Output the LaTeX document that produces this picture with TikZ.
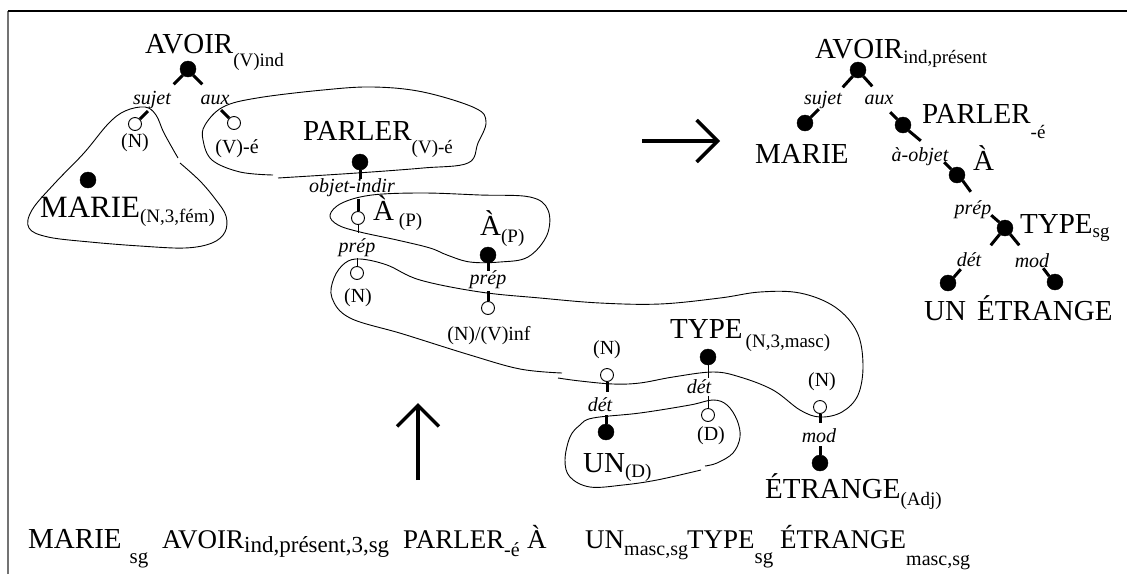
\documentclass[tikz,border=0pt]{standalone}
\usepackage{fontspec}
\setmainfont{Liberation Serif}
\usepackage{tikz}
\usetikzlibrary{positioning,arrows.meta}

\newcommand\lo[2][9]{\raisebox{-#1pt}{\fontsize{19}{19}\selectfont #2}}
\newcommand\blo[3][9]{\raisebox{-#1pt}{\fontsize{#2}{#2}\selectfont #3}}

\begin{document}
\begin{tikzpicture}[
	x=1pt, y=-1pt
	,f/.style={circle, draw, fill, inner sep=0pt, minimum size=16pt}
	,o/.style={circle, draw, fill=white, line width=.9pt, inner sep=0pt, minimum size=13pt}
	,w/.style={anchor=base west, inner sep=0pt, font=\fontsize{29}{30}\selectfont}
	,bw/.style={w, font=\fontsize{27}{30}\selectfont}
	,s/.style={inner sep=0pt, font=\fontsize{20}{20}\selectfont}
	,l/.style={inner sep=0pt, font=\fontsize{20}{20}\selectfont\itshape}
	,stk/.style={line width=3pt}
	,thn/.style={line width=1pt}
	,blob/.style={line width=.9pt}
	,arr/.style={line width=3.5pt, -{Straight Barb[length=21pt, width=42pt]}}
]
\useasboundingbox (0,0) rectangle (1127,574);
\draw[line width=1.2pt, black!55] (8,574) -- (8,11);
\draw[line width=1.2pt] (8,11) -- (1127,11);

% bubbles
\draw[blob] plot[smooth, tension=.6] coordinates {(180,163) (200,181) (216,200) (226,216) (225,232) (212,243) (185,248) (140,246) (90,242) (48,237) (29,228) (32,210) (55,183) (84,153) (108,124) (125,111) (145,107) (156,115) (164,133) (178,158)};
\draw[blob] plot[smooth, tension=.6] coordinates {(278,178) (357,173) (423,168) (468,163) (478,143) (486,122) (475,108) (423,92) (373,87) (323,90) (257,98) (223,107) (205,125) (203,140) (212,160) (240,172) (273,175)};
\draw[blob] plot[smooth cycle, tension=.6] coordinates {(330,215) (342,203) (372,195) (423,193) (480,195) (530,197) (548,210) (547,235) (528,257) (500,262) (470,262) (447,255) (430,248) (397,240) (360,232) (338,225)};
\draw[blob] plot[smooth, tension=.6] coordinates {(558,378) (580,381) (613,384) (640,383) (673,377) (713,372) (740,377) (773,390) (800,410) (820,417) (842,412) (858,395) (863,365) (857,332) (835,307) (800,293) (760,292) (720,298) (660,304) (600,303) (540,298) (480,292) (420,280) (387,265) (360,259) (345,263) (334,278) (332,298) (350,318) (403,334) (470,355) (520,369) (562,373)};
\draw[blob] plot[smooth, tension=.6] coordinates {(701,470) (657,480) (623,485) (590,487) (570,477) (565,460) (570,437) (580,425) (593,418) (640,413) (690,405) (713,400) (727,405) (737,420) (740,437) (733,453) (717,463) (705,466)};

% input tree
\node[w] (avL) at (145,53) {AVOIR\lo[13]{(V)ind}};
\node[f] (avLc) at (188,69) {};
\node[l] (suL) at (152,100) {sujet};
\node[l] (auL) at (215,100) {aux};
\node[o] (nN1c) at (135,124) {};
\node[s] (nN1) at (135,143) {(N)};
\node[o] (veLc) at (234,123) {};
\node[s] (veL) at (237,149) {(V)-é};
\node[f] (marLc) at (88,180) {};
\node[w, font=\fontsize{31}{32}\selectfont] (marL) at (40,217) {MARIE\lo[5]{(N,3,fém)}};
\node[w] (parL) at (303,140) {PARLER\lo[13]{(V)-é}};
\node[f] (parLc) at (360,162) {};
\node[l] (oiL) at (352,188) {objet-indir};
\node[o] (aL1c) at (358,218) {};
\node[w] (aL1) at (373,220) {À\,\lo[6]{(P)}};
\node[l] (prL1) at (357,248) {prép};
\node[o] (nN2c) at (357,273) {};
\node[s] (nN2) at (358,298) {(N)};
\node[w] (aL2) at (480,235) {À\lo[7]{(P)}};
\node[f] (aL2c) at (488,255) {};
\node[l] (prL2) at (488,280) {prép};
\node[o] (nvc) at (488,308) {};
\node[s] (nv) at (489,336) {(N)/(V)inf};
\node[s] (nN3) at (607,350) {(N)};
\node[o] (nN3c) at (607,375) {};
\node[l] (deL1) at (600,405) {dét};
\node[f] (unLc) at (606,432) {};
\node[w] (unL) at (583,472) {UN\lo[5]{(D)}};
\node[w] (typL) at (670,338) {TYPE\hspace{3pt}\lo[9]{(N,3,masc)}};
\node[f] (typLc) at (708,357) {};
\node[l] (deL2) at (699,387) {dét};
\node[o] (dc) at (708,415) {};
\node[s] (dL) at (711,436) {(D)};
\node[s] (nN4) at (822,382) {(N)};
\node[o] (nN4c) at (820,407) {};
\node[l] (moL) at (819,436) {mod};
\node[f] (etrLc) at (820,463) {};
\node[w] (etrL) at (765,498) {ÉTRANGE\lo[7]{(Adj)}};

\draw[stk] (avLc.-130) -- ++(-9,9);
\draw[stk] (avLc.-50) -- ++(9,9);
\draw[stk] (nN1c.45) -- ++(8,-8);
\draw[stk] (veLc.135) -- ++(-8,-8);
\draw[stk] (parLc.south) -- ++(0,9);
\draw[stk] (aL1c.north) -- ++(0,-12);
\draw[thn] (aL1c.south) -- ++(0,8);
\draw[thn] (nN2c.north) -- ++(0,-8);
\draw[stk] (aL2c.south) -- ++(0,8);
\draw[stk] (nvc.north) -- ++(0,-10);
\draw[stk] (nN3c.south) -- ++(0,10);
\draw[stk] (unLc.north) -- ++(0,-9);
\draw[thn] (typLc.south) -- ++(0,13);
\draw[thn] (dc.north) -- ++(0,-12);
\draw[stk] (nN4c.south) -- ++(0,9);
\draw[stk] (etrLc.north) -- ++(0,-9);

% output tree
\node[w] (avR) at (815,58) {AVOIR\lo[5]{ind,présent}};
\node[f] (avRc) at (858,70) {};
\node[l] (suR) at (823,100) {sujet};
\node[l] (auR) at (879,100) {aux};
\node[f] (marRc) at (805,123) {};
\node[w] (marR) at (755,163) {MARIE};
\node[f] (parRc) at (903,125) {};
\node[w] (parR) at (922,123) {PARLER\lo[15]{-é}};
\node[l] (aoR) at (920,157) {à-objet};
\node[f] (aRc) at (957,175) {};
\node[w] (aR) at (973,170) {À};
\node[l] (prR) at (973,210) {prép};
\node[f] (typRc) at (1005,228) {};
\node[w] (typR) at (1020,233) {TYPE\lo[4]{sg}};
\node[l] (deR) at (969,260) {dét};
\node[l] (moR) at (1032,261) {mod};
\node[f] (unRc) at (948,283) {};
\node[f] (etrRc) at (1055,282) {};
\node[w] (unR) at (924,320) {UN};
\node[w] (etrR) at (977,320) {ÉTRANGE};

\draw[stk] (avRc.-130) -- ++(-10,11);
\draw[stk] (avRc.-50) -- ++(9,10);
\draw[stk] (marRc.45) -- ++(8,-8);
\draw[stk] (parRc.135) -- ++(-7,-7);
\draw[stk] (parRc.-45) -- ++(12,10);
\draw[stk] (aRc.135) -- ++(-7,-7);
\draw[stk] (aRc.-45) -- ++(8,11);
\draw[stk] (typRc.135) -- ++(-8,-7);
\draw[stk] (typRc.-130) -- ++(-9,11);
\draw[stk] (typRc.-50) -- ++(9,11);
\draw[stk] (unRc.45) -- ++(7,-8);
\draw[stk] (etrRc.135) -- ++(-6,-8);

% arrows
\coordinate (ra1) at (642,141);
\coordinate (ra2) at (720,141);
\coordinate (ua1) at (418,480);
\coordinate (ua2) at (418,403);
\draw[arr] (ra1) -- (ra2);
\draw[arr] (ua1) -- (ua2);

% sentence
\node[bw, font=\fontsize{29}{30}\selectfont] (b1) at (28,548) {MARIE\hspace{8pt}\blo[15]{21}{sg}};
\node[bw] (b2) at (162,548) {AVOIR\blo[4]{23}{ind,présent,3,sg}};
\node[bw] (b3) at (403,548) {PARLER\blo[8]{20}{-é}};
\node[bw] (b4) at (527,548) {À};
\node[bw] (b5) at (585,548) {UN\blo[7]{20}{masc,sg}};
\node[bw] (b6) at (687,548) {TYPE\blo[15]{21}{sg}};
\node[bw] (b7) at (780,548) {ÉTRANGE\blo[17]{20}{masc,sg}};
\end{tikzpicture}
\end{document}
